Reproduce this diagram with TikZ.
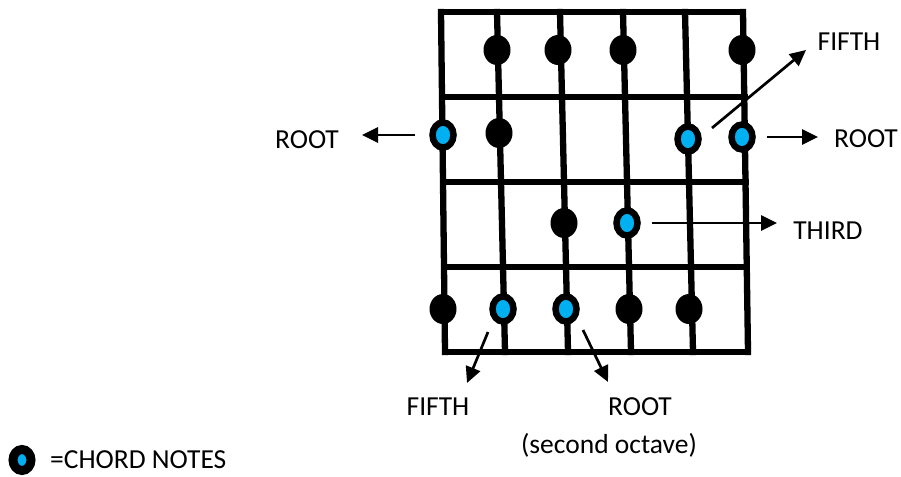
\documentclass[tikz,border=0pt]{standalone}
\usepackage{fontspec}
\setmainfont{Carlito}
\usetikzlibrary{arrows.meta,shapes.geometric}
\definecolor{fbNote}{HTML}{00B0F0}

\begin{document}
\begin{tikzpicture}[x=1pt,y=-1pt,
    fret/.style={line width=6.3pt,line cap=rect},
    note/.style={ellipse,fill=black,minimum width=27pt,minimum height=30pt,inner sep=0pt},
    chord/.style={ellipse,draw=black,fill=fbNote,line width=6.5pt,minimum width=21pt,
                  minimum height=25pt,inner sep=0pt},
    arr/.style={line width=2.7pt,-{Triangle[length=16pt,width=15pt]}},
    lbl/.style={inner sep=0pt,font=\fontsize{27.5}{33}\selectfont}]
  \useasboundingbox (0,0) rectangle (901,476);
  \foreach \xt/\xb in {441/445,497/505,560/568,623/631,685/693,743/748}
    \draw[fret] (\xt,12) -- (\xb,352);
  \foreach \y/\xl/\xr in {12/441/743,97/442/745,182/443/746,267/444/747,352/445/748}
    \draw[fret] (\xl,\y) -- (\xr,\y);

  \node[note] (n11) at (497,50) {};
  \node[note] (n12) at (558,50) {};
  \node[note] (n13) at (623,50) {};
  \node[note] (n14) at (742,50) {};
  \node[chord] (c21) at (443,135) {};
  \node[note] (n22) at (499,133) {};
  \node[chord] (c23) at (688,139) {};
  \node[chord] (c24) at (742,137) {};
  \node[note] (n31) at (564,223) {};
  \node[chord] (c32) at (627,223) {};
  \node[note] (n41) at (443,309) {};
  \node[chord] (c42) at (503,309) {};
  \node[chord] (c43) at (566,309) {};
  \node[note] (n44) at (629,309) {};
  \node[note] (n45) at (689,309) {};

  \node[lbl] (rootL) at (307,140) {ROOT};
  \node[lbl] (rootR) at (866,139) {ROOT};
  \node[lbl] (fifthT) at (849,42) {FIFTH};
  \node[lbl] (third) at (828,231) {THIRD};
  \node[lbl] (fifthB) at (438,407) {FIFTH};
  \node[lbl] (rootB) at (640,407) {ROOT};
  \node[lbl] (octave) at (609,445) {(second octave)};
  \node[chord,minimum width=18pt,minimum height=21pt,line width=9pt] (cLeg) at (22,460) {};
  \node[lbl,anchor=west] (legend) at (50,460) {=CHORD NOTES};

  \coordinate (tRootL) at (362,135);
  \coordinate (tRootR) at (818,137);
  \coordinate (tThird) at (777,223);
  \coordinate (sFifthT) at (712,128);
  \coordinate (tFifthT) at (806,50);
  \coordinate (sFifthB) at (488,332);
  \coordinate (tFifthB) at (467,383);
  \coordinate (sRootB) at (583,330);
  \coordinate (tRootB) at (608,382);
  \draw[arr,shorten <=14pt] (c21) -- (tRootL);
  \draw[arr,shorten <=11pt] (c24) -- (tRootR);
  \draw[arr,shorten <=11pt] (c32) -- (tThird);
  \draw[arr] (sFifthT) -- (tFifthT);
  \draw[arr] (sFifthB) -- (tFifthB);
  \draw[arr] (sRootB) -- (tRootB);
\end{tikzpicture}
\end{document}
